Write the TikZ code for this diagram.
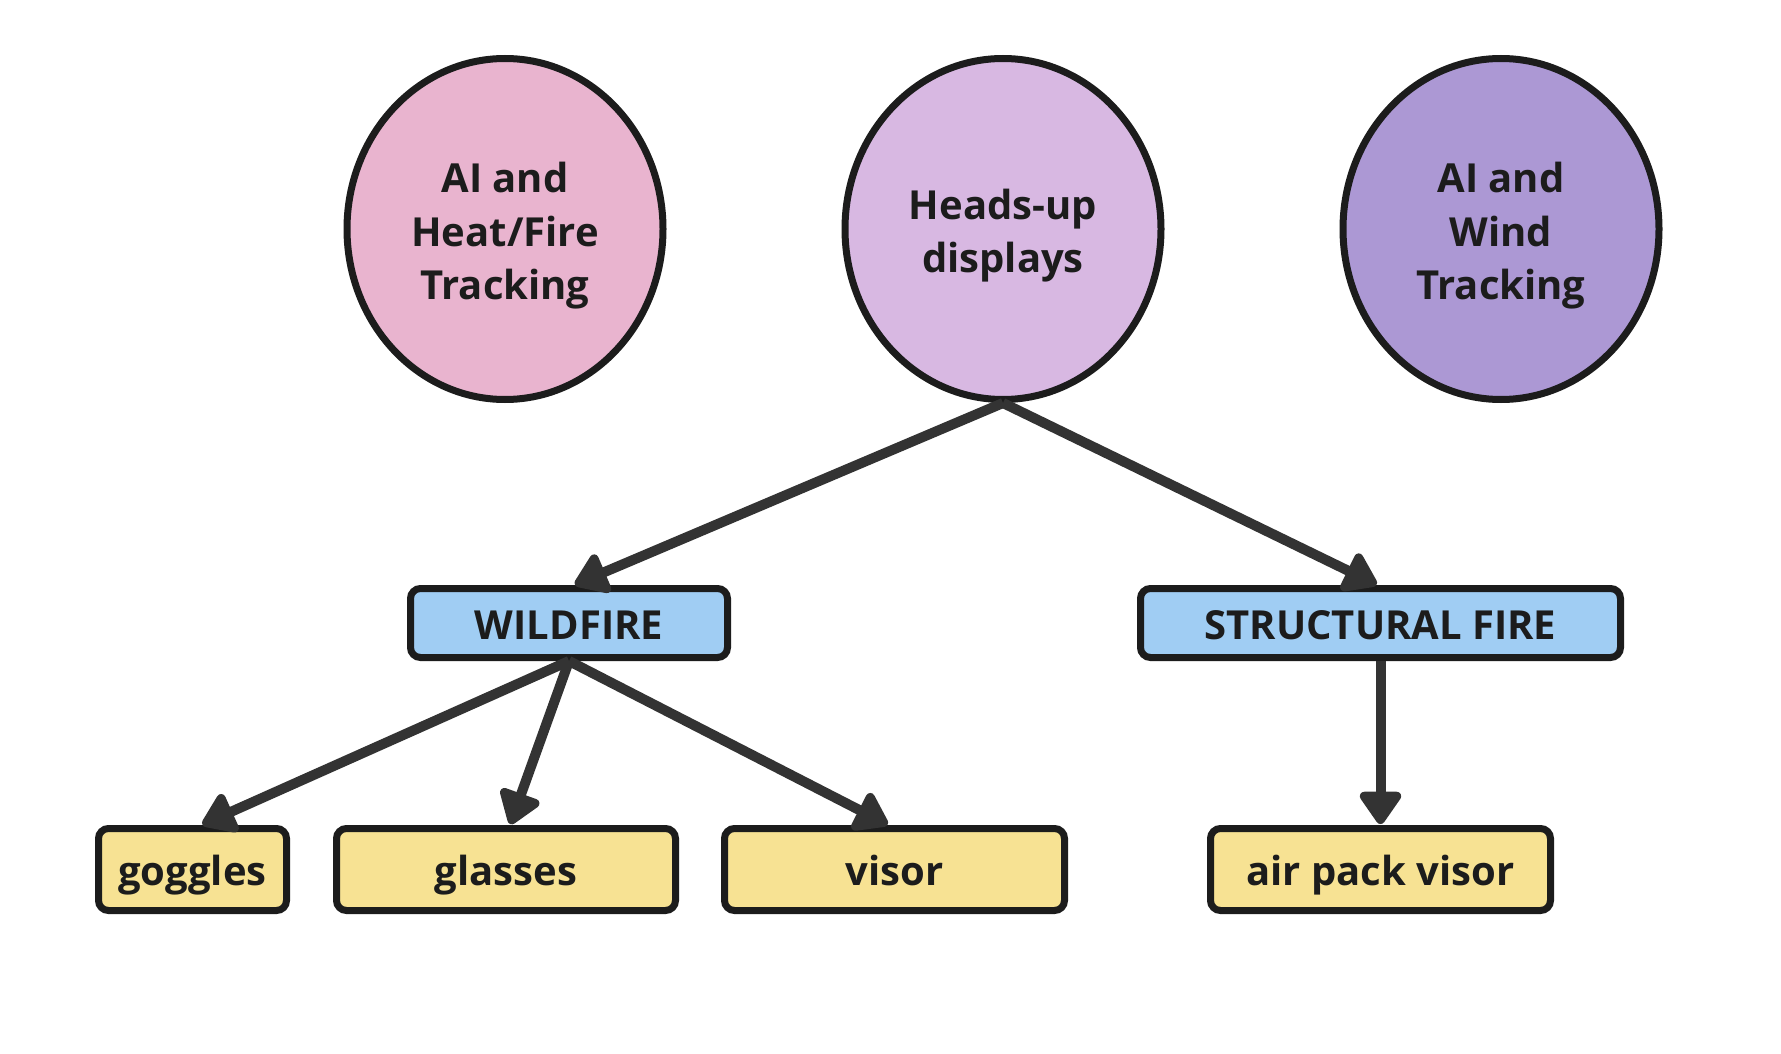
\documentclass[tikz,border=0pt]{standalone}
\usepackage{fontspec}
\setmainfont{Open Sans}
\usetikzlibrary{shapes.geometric,arrows.meta}
\definecolor{cpink}{HTML}{E9B4CF}
\definecolor{clilac}{HTML}{D8B8E2}
\definecolor{cpurple}{HTML}{AC98D4}
\definecolor{cblue}{HTML}{A0CDF3}
\definecolor{cyellow}{HTML}{F7E293}
\definecolor{cborder}{HTML}{1C1C1C}
\definecolor{carrow}{HTML}{333333}
\newcommand{\topstrut}{\rule{0pt}{34pt}}
\tikzset{
  bubble/.style={ellipse, draw=cborder, line width=7pt, minimum width=316pt, minimum height=341pt, inner sep=0pt, align=center, text=cborder, text depth=0pt, font=\bfseries\fontsize{40}{53.5}\selectfont},
  catbox/.style={rectangle, rounded corners=10pt, draw=cborder, fill=cblue, line width=7pt, minimum height=69pt, inner sep=0pt, text=cborder, text height=40pt, text depth=8pt, font=\bfseries\fontsize{40}{48}\selectfont},
  itembox/.style={rectangle, rounded corners=10pt, draw=cborder, fill=cyellow, line width=7pt, minimum height=82pt, inner sep=0pt, text=cborder, text height=40pt, text depth=8pt, font=\bfseries\fontsize{40}{48}\selectfont},
  conn/.style={draw=carrow, line width=10pt, -{Triangle[length=36pt,width=47pt,round]}, shorten >=1pt}
}
\begin{document}
\begin{tikzpicture}[x=1pt,y=-1pt]
\path[use as bounding box, fill=white] (0,0) rectangle (1781,1054);
\node[bubble, fill=cpink] (heat) at (505,229) {\topstrut AI and\\Heat/Fire\\Tracking};
\node[bubble, fill=clilac] (hud) at (1003,229) {\topstrut Heads-up\\displays};
\node[bubble, fill=cpurple] (wind) at (1501,229) {\topstrut AI and\\Wind\\Tracking};
\node[catbox, minimum width=317pt] (wild) at (569,623) {WILDFIRE};
\node[catbox, minimum width=480pt] (struct) at (1380.5,623) {STRUCTURAL FIRE};
\node[itembox, minimum width=188pt] (goggles) at (192.5,869.5) {goggles};
\node[itembox, minimum width=339pt] (glasses) at (506,869.5) {glasses};
\node[itembox, minimum width=340pt] (visor) at (894.5,869.5) {visor};
\node[itembox, minimum width=340pt] (airpack) at (1380.5,869.5) {air pack visor};
\draw[conn] (hud.south) -- ([xshift=5pt]wild.north);
\draw[conn] (hud.south) -- ([xshift=-3pt]struct.north);
\draw[conn] (wild.south) -- ([xshift=9pt]goggles.north);
\draw[conn] (wild.south) -- ([xshift=4pt]glasses.north);
\draw[conn] (wild.south) -- ([xshift=-6pt]visor.north);
\draw[conn] (struct.south) -- (airpack.north);
\end{tikzpicture}
\end{document}
